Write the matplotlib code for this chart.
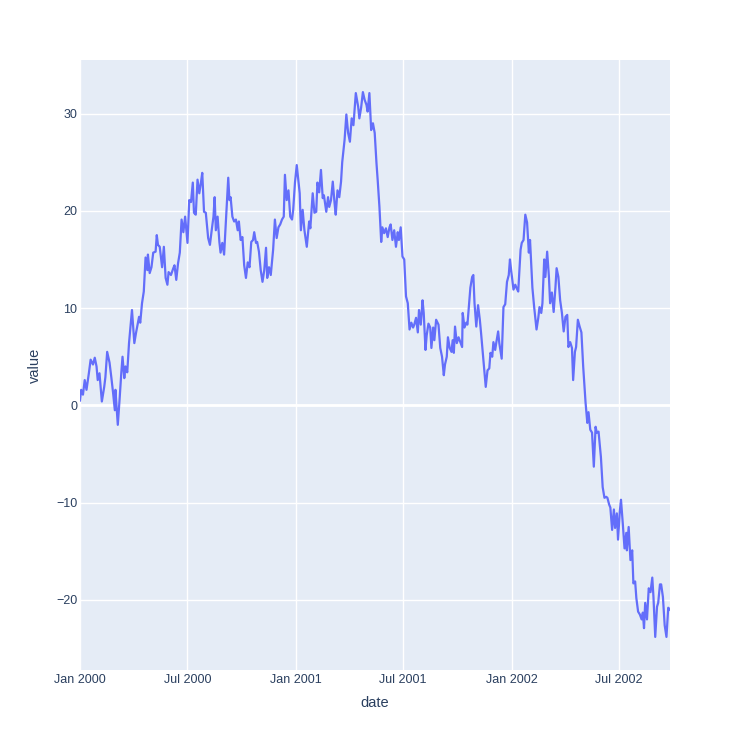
import matplotlib
matplotlib.use('Agg')
import matplotlib.pyplot as plt
import matplotlib.dates as mdates
import numpy as np
import pandas as pd

days = [0, 2, 5, 8, 11, 15, 18, 22, 25, 28, 30, 33, 37, 41, 43, 46, 50, 53, 56, 59,
        60, 64, 67, 70, 72, 75, 77, 80, 83, 86, 88, 92, 95, 100, 102, 105, 108, 111, 114, 115,
        118, 121, 124, 128, 130, 132, 135, 139, 142, 145, 148, 150, 154, 158, 160, 163, 166, 169,
        172, 175, 178, 182, 185, 188, 191, 193, 196, 199, 202, 205, 207, 210, 213, 217, 220, 223,
        226, 228, 230, 233, 236, 238, 241, 244, 247, 251, 253, 255, 258, 261, 264, 267, 269, 272,
        275, 278, 281, 284, 287, 290, 293, 295, 298, 300, 303, 306, 309, 312, 315, 317, 320, 323,
        327, 330, 333, 336, 339, 342, 345, 347, 350, 353, 356, 359, 361, 364, 367, 372,
        374, 377, 380, 384, 388, 390, 394, 397, 400, 402, 405, 408, 411, 413, 417, 420, 422, 425,
        428, 431, 433, 436, 439, 442, 444, 448, 451, 454, 457, 460, 463, 467, 471, 473, 476, 479,
        482, 485, 487, 490, 493, 496, 499, 502, 504, 507, 510, 512, 515, 518, 521, 524, 526, 529,
        532, 535, 538, 540, 543, 546,
        549, 552, 555, 558, 561, 564, 566, 569, 572, 574, 577, 580, 582, 585, 587, 590, 593, 595,
        598, 600, 603, 607, 610, 613, 616, 618, 621, 623, 626, 629, 631, 633, 635, 638, 641, 644,
        647, 648, 651, 654, 656, 659, 661, 664, 666, 668, 671, 674, 677, 679, 682, 685, 687, 690,
        693, 695, 698, 700, 703, 705, 708, 710, 714, 717, 720, 723, 726, 728, 730, 734, 737, 739,
        742, 746, 748, 751, 754, 757, 760, 762, 766, 769, 773, 776, 778, 781, 783, 786, 788, 791,
        794, 796, 799, 802, 805, 807, 810, 813, 816, 819, 822, 825, 827, 830, 833, 835, 838, 840,
        843, 846, 849, 852,
        856, 859, 861, 864, 867, 870, 873, 875, 878, 882, 885, 888, 891, 893, 896, 898, 901, 904,
        906, 909, 911, 914, 916, 919, 922, 925, 926, 929, 932, 935, 937, 940, 942, 945, 948, 951,
        953, 955, 957, 960, 963, 966, 969, 971, 974, 977, 979, 982, 984, 987, 990, 993, 996, 999]

values = [0.5, 1.6, 1.1, 2.6, 1.6, 3.3, 4.7, 4.2, 4.9, 4.0, 2.6, 3.3, 0.4, 1.9, 2.9, 5.5, 4.4, 2.9, 1.3, -0.5,
          1.6, -2.0, 0.6, 3.4, 5.0, 2.8, 4.0, 3.4, 6.4, 8.5, 9.8, 6.4, 7.5, 9.1, 8.5, 10.5, 11.7, 15.2, 13.9, 15.5,
          13.6, 14.2, 15.7, 15.8, 17.5, 16.5, 16.3, 14.2, 16.3, 13.1, 12.4, 13.7, 13.4, 14.1, 14.4, 12.9, 14.6, 15.7,
          19.1, 17.8, 19.4, 16.7, 21.1, 20.9, 22.9, 19.8, 19.6, 23.2, 21.8, 23.0, 23.9, 19.9, 19.8, 17.2, 16.5, 18.0,
          19.4, 21.4, 18.0, 19.4, 16.8, 15.7, 16.7, 15.5, 18.8, 23.4, 21.1, 21.4, 19.4, 18.9, 19.1, 18.0, 18.9, 17.0,
          17.3, 14.4, 13.1, 14.7, 14.2, 16.8, 17.0, 17.8, 16.7, 16.8, 15.8, 13.9, 12.7, 13.9, 16.2, 13.1, 14.2, 13.4,
          16.0, 19.1, 17.2, 18.3, 18.6, 19.1, 19.4, 23.7, 21.1, 22.1, 19.4, 19.1, 20.1, 22.9, 24.7, 21.8,
          18.0, 20.1, 18.0, 16.3, 18.9, 18.2, 21.8, 19.8, 19.9, 22.9, 21.9, 24.2, 21.3, 21.6, 19.9, 21.4, 20.4, 21.1,
          23.0, 20.8, 19.6, 22.1, 21.4, 23.0, 25.0, 27.3, 29.9, 28.0, 27.1, 29.5, 28.8, 32.1, 30.7, 29.5, 30.6, 32.2,
          31.4, 30.9, 30.2, 32.1, 28.3, 29.0, 28.0, 24.9, 23.2, 20.4, 16.8, 18.3, 17.7, 18.2, 17.3, 18.3, 18.6, 17.0,
          18.0, 16.3, 17.8, 17.0, 18.3, 15.3,
          15.0, 11.2, 10.5, 7.8, 8.5, 8.0, 8.3, 9.0, 7.5, 9.8, 8.3, 10.8, 9.5, 5.7, 7.2, 8.4, 8.0, 5.9,
          8.0, 6.7, 8.8, 8.3, 5.9, 5.0, 3.1, 4.2, 5.0, 7.0, 5.9, 5.5, 6.7, 5.4, 8.1, 6.4, 7.0, 6.5,
          6.0, 9.5, 8.0, 8.5, 8.3, 10.5, 12.1, 13.2, 13.4, 10.5, 8.1, 10.3, 8.8, 7.5, 5.4, 3.3, 1.9, 3.6,
          3.8, 5.4, 5.0, 6.5, 5.7, 6.5, 7.6, 6.4, 4.8, 10.1, 10.4, 12.7, 13.4, 15.0, 13.9, 11.9, 12.4, 12.1,
          11.7, 16.0, 16.7, 17.0, 19.6, 18.8, 15.7, 17.0, 12.1, 10.1, 7.8, 9.0, 10.1, 9.5, 10.5, 15.0, 13.2, 15.8,
          13.2, 10.5, 11.6, 9.6, 12.1, 14.1, 13.2, 10.8, 9.5, 7.6, 9.1, 9.3, 6.0, 6.5, 5.9, 2.6, 5.5, 6.0,
          8.8, 8.1, 7.5, 4.0,
          0.3, -1.8, -0.7, -2.5, -2.8, -6.3, -2.2, -2.8, -2.7, -5.3, -8.4, -9.5, -9.4, -9.5, -10.2, -10.5, -12.8, -10.7,
          -12.6, -11.1, -13.8, -10.9, -9.7, -12.1, -14.7, -13.1, -14.9, -12.5, -15.9, -14.9, -18.3, -18.1, -19.8, -21.2, -21.5, -22.0,
          -21.3, -22.9, -20.3, -22.0, -18.8, -19.2, -17.7, -19.7, -23.8, -20.7, -20.3, -18.4, -18.4, -19.7, -22.6, -23.8, -20.8, -21.0]

dates = pd.Timestamp('2000-01-01') + pd.to_timedelta(days, unit='D')
y_ticks = [-20, -10, 0, 10, 20, 30]

plt.rcParams['font.family'] = ['Liberation Sans', 'DejaVu Sans']
text_col = '#2a3f5f'

fig = plt.figure(figsize=(7.5, 7.5), dpi=100)
ax = fig.add_axes([80 / 750, 80 / 750, 590 / 750, 610 / 750])
ax.set_facecolor('#E5ECF6')

ax.plot(dates, values, color='#636EFA', linewidth=1.6, zorder=3)

ax.set_xlim(dates[0], dates[-1])
ax.set_ylim(-27.2, 35.5)
ax.set_yticks(y_ticks)
ax.xaxis.set_major_locator(mdates.MonthLocator(bymonth=(1, 7)))
ax.xaxis.set_major_formatter(mdates.DateFormatter('%b %Y'))

ax.grid(True, color='white', linewidth=1, zorder=0)
ax.axhline(0, color='white', linewidth=2, zorder=1)
ax.set_axisbelow(True)
for s in ax.spines.values():
    s.set_visible(False)

ax.tick_params(axis='both', length=0, labelsize=9, labelcolor=text_col)
ax.tick_params(axis='x', pad=3)
ax.tick_params(axis='y', pad=2)

ax.set_xlabel('date', fontsize=10.5, color=text_col, labelpad=7)
ax.set_ylabel('value', fontsize=10.5, color=text_col, labelpad=10)

fig.savefig('out.png', dpi=100)
